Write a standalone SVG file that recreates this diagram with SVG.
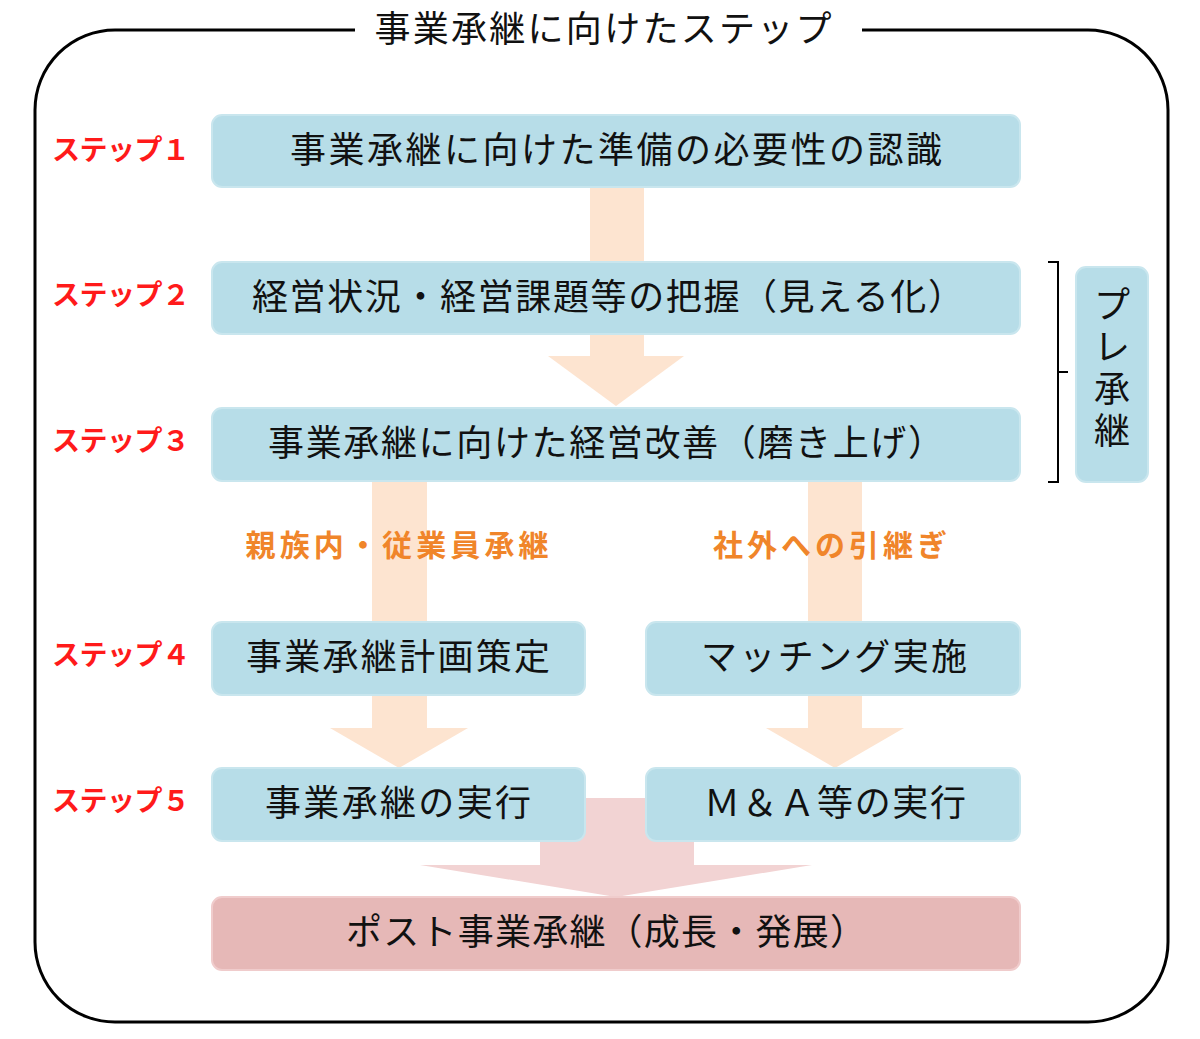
<svg xmlns="http://www.w3.org/2000/svg" width="1200" height="1039" viewBox="0 0 1200 1039">
<style>
.box{fill:#b7dde8;stroke:#c9e6ee;stroke-width:2}
.t{font-family:"Noto Sans CJK JP","Liberation Sans",sans-serif;font-size:36px;fill:#111;text-anchor:middle}
.s{font-family:"Noto Sans CJK JP","Liberation Sans",sans-serif;font-size:28px;font-weight:bold;fill:#ff1a1a}
.o{font-family:"Noto Sans CJK JP","Liberation Sans",sans-serif;font-size:30px;font-weight:bold;fill:#f0852a;text-anchor:middle}
.ar{fill:#fde4d0}
</style>
<rect x="35" y="30" width="1133" height="992" rx="80" fill="#fff" stroke="#000" stroke-width="3"/>
<rect x="355" y="10" width="507" height="35" fill="#fff"/>
<text class="t" x="603" y="42" textLength="457">事業承継に向けたステップ</text>
<g id="connectors">
<polygon class="ar" points="590,187 644,187 644,356 684,356 616,406 548,356 590,356"/>
<polygon class="ar" points="372,481 427,481 427,728 468,728 399,768 330,728 372,728"/>
<polygon class="ar" points="808,481 862,481 862,728 904,728 835,768 766,728 808,728"/>
<polygon fill="#f2d3d3" points="540,798 694,798 694,865 812,865 616,897 420,865 540,865"/>
<path d="M1048,262 L1058,262 L1058,372 L1068,372 M1058,372 L1058,482 L1048,482" fill="none" stroke="#000" stroke-width="2"/>
</g>
<g id="n1"><rect class="box" x="212" y="115" width="808" height="72" rx="10"/><text class="t" x="616" y="163" textLength="652">事業承継に向けた準備の必要性の認識</text></g>
<g id="n2"><rect class="box" x="212" y="262" width="808" height="72" rx="10"/><text class="t" x="608" y="310" textLength="712">経営状況・経営課題等の把握（見える化）</text></g>
<g id="n3"><rect class="box" x="212" y="408" width="808" height="73" rx="10"/><text class="t" x="606" y="456" textLength="676">事業承継に向けた経営改善（磨き上げ）</text></g>
<g id="n4a"><rect class="box" x="212" y="622" width="373" height="73" rx="10"/><text class="t" x="398" y="670" textLength="304">事業承継計画策定</text></g>
<g id="n4b"><rect class="box" x="646" y="622" width="374" height="73" rx="10"/><text class="t" x="834" y="670" textLength="266">マッチング実施</text></g>
<g id="n5a"><rect class="box" x="212" y="768" width="373" height="73" rx="10"/><text class="t" x="398" y="816" textLength="266">事業承継の実行</text></g>
<g id="n5b"><rect class="box" x="646" y="768" width="374" height="73" rx="10"/><text class="t" x="835" y="816" textLength="262">Ｍ＆Ａ等の実行</text></g>
<g id="post"><rect x="212" y="897" width="808" height="73" rx="10" fill="#e6b8b7" stroke="#f0cccc" stroke-width="2"/><text class="t" x="606" y="945" textLength="520">ポスト事業承継（成長・発展）</text></g>
<g id="pre"><rect class="box" x="1076" y="267" width="72" height="215" rx="10"/>
<text class="t" x="1112" y="318" font-size="34">プ</text><text class="t" x="1112" y="360" font-size="34">レ</text><text class="t" x="1112" y="402" font-size="34">承</text><text class="t" x="1112" y="444" font-size="34">継</text></g>
<g id="labels">
<text class="s" x="52" y="160" textLength="138">ステップ１</text>
<text class="s" x="52" y="305" textLength="138">ステップ２</text>
<text class="s" x="52" y="451" textLength="138">ステップ３</text>
<text class="s" x="52" y="665" textLength="138">ステップ４</text>
<text class="s" x="52" y="811" textLength="138">ステップ５</text>
<text class="o" x="397" y="556" textLength="303">親族内・従業員承継</text>
<text class="o" x="830" y="556" textLength="234">社外への引継ぎ</text>
</g>
</svg>
